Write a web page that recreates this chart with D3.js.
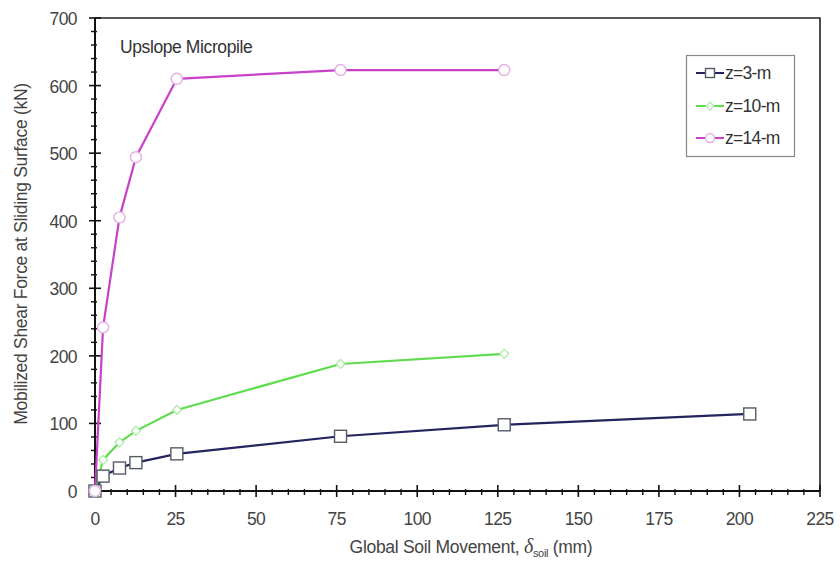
<!DOCTYPE html>
<html>
<head>
<meta charset="utf-8">
<script src="https://cdn.jsdelivr.net/npm/d3@7"></script>
<style>
  html, body { margin: 0; padding: 0; background: #fff; }
  svg { display: block; font-family: "Liberation Sans", Arial, sans-serif; }
</style>
</head>
<body>
<svg id="chart" width="840" height="563"></svg>
<script>
// Global soil movement (mm) and mobilized shear force (kN) for each depth
const seriesNames = ["z=3-m", "z=10-m", "z=14-m"];
const movementZ3  = [0, 2.5, 7.6, 12.7, 25.4, 76.2, 127, 203.2];
const forceZ3     = [0, 22, 34, 42, 55, 81, 98, 114];
const movementZ10 = [0, 2.5, 7.6, 12.7, 25.4, 76.2, 127];
const forceZ10    = [0, 46, 72, 89, 120, 188, 203];
const movementZ14 = [0, 2.5, 7.6, 12.7, 25.4, 76.2, 127];
const forceZ14    = [0, 242, 405, 494, 610, 623, 623];
const xTicks = [0, 25, 50, 75, 100, 125, 150, 175, 200, 225];
const yTicks = [0, 100, 200, 300, 400, 500, 600, 700];

const series = [
  { name: seriesNames[0], xs: movementZ3,  ys: forceZ3,  line: "#24245e", mark: "#555a66", shape: "square" },
  { name: seriesNames[1], xs: movementZ10, ys: forceZ10, line: "#5fdc4e", mark: "#a6eba0", shape: "diamond" },
  { name: seriesNames[2], xs: movementZ14, ys: forceZ14, line: "#c841c8", mark: "#e6ade6", shape: "circle" }
];

const svg = d3.select("#chart");
const plotL = 95, plotR = 820, plotT = 18, plotB = 491;

const x = d3.scaleLinear().domain([0, 225]).range([plotL, plotR]);
const y = d3.scaleLinear().domain([0, 700]).range([plotB, plotT]);

// frame (top and right edges)
svg.append("path")
  .attr("d", `M${plotL},${plotT}H${plotR}V${plotB}`)
  .attr("fill", "none").attr("stroke", "#222").attr("stroke-width", 1.6);

// minor ticks
const xMinor = d3.range(0, 226, 5).filter(v => v % 25 !== 0);
const yMinor = d3.range(0, 701, 20).filter(v => v % 100 !== 0);
const axisColor = "#111";
const labelFont = 17.5;

const gx = svg.append("g");
gx.selectAll("line.minor").data(xMinor).join("line").attr("class", "minor")
  .attr("x1", d => x(d)).attr("x2", d => x(d))
  .attr("y1", plotB - 2).attr("y2", plotB + 4)
  .attr("stroke", axisColor).attr("stroke-width", 1.4);
gx.selectAll("line.major").data(xTicks).join("line").attr("class", "major")
  .attr("x1", d => x(d)).attr("x2", d => x(d))
  .attr("y1", plotB - 6).attr("y2", plotB + 6)
  .attr("stroke", axisColor).attr("stroke-width", 1.6);
gx.selectAll("text").data(xTicks).join("text")
  .attr("x", d => x(d)).attr("y", plotB + 34)
  .attr("text-anchor", "middle")
  .attr("font-size", labelFont).attr("fill", "#444")
  .attr("letter-spacing", -0.6)
  .text(d => d);

const gy = svg.append("g");
gy.selectAll("line.minor").data(yMinor).join("line").attr("class", "minor")
  .attr("x1", plotL - 4).attr("x2", plotL + 2)
  .attr("y1", d => y(d)).attr("y2", d => y(d))
  .attr("stroke", axisColor).attr("stroke-width", 1.4);
gy.selectAll("line.major").data(yTicks).join("line").attr("class", "major")
  .attr("x1", plotL - 6).attr("x2", plotL + 6)
  .attr("y1", d => y(d)).attr("y2", d => y(d))
  .attr("stroke", axisColor).attr("stroke-width", 1.6);
gy.selectAll("text").data(yTicks).join("text")
  .attr("x", plotL - 18).attr("y", d => y(d) + 7)
  .attr("text-anchor", "end")
  .attr("font-size", labelFont).attr("fill", "#444")
  .attr("letter-spacing", -0.6)
  .text(d => d);

// axis lines
svg.append("line").attr("x1", plotL).attr("x2", plotR).attr("y1", plotB).attr("y2", plotB)
  .attr("stroke", axisColor).attr("stroke-width", 2);
svg.append("line").attr("x1", plotL).attr("x2", plotL).attr("y1", plotT).attr("y2", plotB)
  .attr("stroke", axisColor).attr("stroke-width", 2);

// axis titles
const xt = svg.append("text")
  .attr("x", 471).attr("y", 553)
  .attr("text-anchor", "middle").attr("font-size", 17.5).attr("fill", "#444")
  .attr("letter-spacing", -0.3);
xt.append("tspan").text("Global Soil Movement, ");
xt.append("tspan").attr("font-style", "italic").attr("font-family", "'Liberation Serif', serif").attr("font-size", 20).text("δ");
xt.append("tspan").attr("font-size", 11).attr("dy", 4).text("soil");
xt.append("tspan").attr("dy", -4).text(" (mm)");

svg.append("text")
  .attr("transform", "translate(27,254) rotate(-90)")
  .attr("text-anchor", "middle").attr("font-size", 17.5).attr("fill", "#444")
  .attr("letter-spacing", -0.3)
  .text("Mobilized Shear Force at Sliding Surface (kN)");

svg.append("text")
  .attr("x", 120).attr("y", 53)
  .attr("font-size", 17.5).attr("fill", "#333")
  .attr("letter-spacing", -0.4)
  .text("Upslope Micropile");

// marker drawing
function drawMarker(g, shape, cx, cy, stroke, size) {
  if (shape === "square") {
    g.append("rect").attr("x", cx - size).attr("y", cy - size)
      .attr("width", 2 * size).attr("height", 2 * size)
      .attr("fill", "#fff").attr("stroke", stroke).attr("stroke-width", 1.4);
  } else if (shape === "circle") {
    g.append("circle").attr("cx", cx).attr("cy", cy).attr("r", size)
      .attr("fill", "#fff").attr("stroke", stroke).attr("stroke-width", 1.4);
  } else {
    g.append("path")
      .attr("d", `M${cx},${cy - size}L${cx + size},${cy}L${cx},${cy + size}L${cx - size},${cy}Z`)
      .attr("fill", "#fff").attr("stroke", stroke).attr("stroke-width", 1.2);
  }
}
const markerSize = { square: 6, circle: 5.5, diamond: 4.5 };

const line = d3.line().x(d => x(d[0])).y(d => y(d[1]));
series.forEach(s => {
  const pts = s.xs.map((v, i) => [v, s.ys[i]]);
  svg.append("path").datum(pts).attr("d", line)
    .attr("fill", "none").attr("stroke", s.line).attr("stroke-width", 2.2);
});
series.forEach(s => {
  const g = svg.append("g");
  s.xs.forEach((v, i) => drawMarker(g, s.shape, x(v), y(s.ys[i]), s.mark, markerSize[s.shape]));
});

// legend
const lg = svg.append("g");
lg.append("rect").attr("x", 686.5).attr("y", 55.5).attr("width", 108).attr("height", 101)
  .attr("fill", "#fff").attr("stroke", "#888").attr("stroke-width", 1.2);
const rowY = [73, 106, 138];
series.forEach((s, i) => {
  lg.append("line").attr("x1", 696).attr("x2", 724).attr("y1", rowY[i]).attr("y2", rowY[i])
    .attr("stroke", s.line).attr("stroke-width", 2);
  drawMarker(lg, s.shape, 710, rowY[i], s.mark, s.shape === "diamond" ? 4 : 4.5);
  lg.append("text").attr("x", 725).attr("y", rowY[i] + 6)
    .attr("font-size", 17.5).attr("fill", "#333")
    .attr("letter-spacing", -0.7)
    .text(s.name);
});
</script>
</body>
</html>
